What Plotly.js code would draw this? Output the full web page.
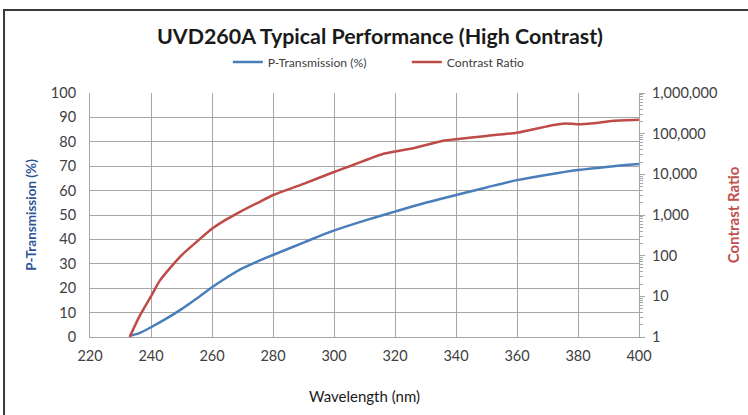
<!DOCTYPE html>
<html>
<head>
<meta charset="utf-8">
<script src="https://cdn.plot.ly/plotly-3.0.1.min.js"></script>
<style>html,body{margin:0;padding:0;background:#fff;}#chart{width:748px;height:415px;}</style>
</head>
<body>
<div id="chart"></div>
<script>
// Data
const wlTrans = [233, 236, 240, 245, 249.5, 255, 260, 265, 269, 275, 280, 290, 299, 310, 320, 330, 340, 350, 360, 370, 380, 390, 400];
const pTrans  = [0.5, 1.5, 4.0, 7.5, 11, 15.8, 20.4, 24.5, 27.5, 31, 33.6, 38.7, 43.2, 47.7, 51.4, 55, 58.2, 61.3, 64.3, 66.5, 68.4, 69.8, 70.9];

const wlCR = [233, 236, 240, 243, 249.5, 255, 260.2, 265, 269.2, 275, 280.1, 290, 298.7, 306.3, 316.2, 326, 335.8, 340, 350, 359.9, 365.4, 372, 375.7, 380.1, 385, 391.6, 400];
const contrast = [1, 3, 10, 25, 94, 220, 470, 800, 1200, 2000, 3100, 5800, 10500, 17000, 32000, 44000, 67000, 73000, 88000, 105000, 128000, 164000, 179000, 170000, 180000, 208000, 220000];

const xTicks = [220, 240, 260, 280, 300, 320, 340, 360, 380, 400];
const yTicks = [0, 10, 20, 30, 40, 50, 60, 70, 80, 90, 100];
const crTickVals = [1, 10, 100, 1000, 10000, 100000, 1000000];
const crTickText = ['1', '10', '100', '1,000', '10,000', '100,000', '1,000,000'];

const blue = '#4A7EBB';
const red = '#BE4B48';
const grid = '#A6A6A6';
const txt = '#404040';
const FONT = 'Lato, "Open Sans", sans-serif';

const traces = [
  {x: wlTrans, y: pTrans, name: 'P-Transmission (%)', type: 'scatter', mode: 'lines',
   line: {color: blue, width: 2.5, shape: 'spline', smoothing: 0.8}, yaxis: 'y'},
  {x: wlCR, y: contrast, name: 'Contrast Ratio', type: 'scatter', mode: 'lines',
   line: {color: red, width: 2.5, shape: 'spline', smoothing: 0.6}, yaxis: 'y2'}
];

const layout = {
  width: 748, height: 415,
  margin: {l: 90, r: 109, t: 93, b: 78},
  paper_bgcolor: '#fff', plot_bgcolor: '#fff',
  font: {family: FONT, color: txt, size: 14.5},
  showlegend: true,
  title: {text: '<b>UVD260A Typical Performance (High Contrast)</b>', x: 0.508, xanchor: 'center',
          yref: 'container', y: 0.912, yanchor: 'middle', font: {family: FONT, size: 21.4, color: '#1a1a1a'}},
  legend: {orientation: 'h', x: 0.251, xanchor: 'left', y: 1.127, yanchor: 'middle',
           font: {family: FONT, size: 12.2, color: txt}, itemwidth: 30,
           entrywidth: 134, entrywidthmode: 'pixels',
           bgcolor: 'rgba(0,0,0,0)'},
  xaxis: {range: [220, 400], tickvals: xTicks, ticktext: xTicks.map(String),
          showgrid: true, gridcolor: grid, gridwidth: 1,
          showline: true, linecolor: grid, linewidth: 1, zeroline: false,
          ticks: '', ticklabelstandoff: 6, tickfont: {size: 14.5, color: txt},
          title: {text: 'Wavelength (nm)', font: {size: 15, color: '#1a1a1a'}, standoff: 28}},
  yaxis: {range: [0, 100], tickvals: yTicks, showgrid: true, gridcolor: grid, gridwidth: 1,
          showline: true, linecolor: grid, linewidth: 1, zeroline: false, ticks: '',
          ticklabelstandoff: 10, tickfont: {size: 14.5, color: txt},
          title: {text: '<b>P-Transmission (%)</b>', font: {size: 13.5, color: '#2F5597'}, standoff: 11}},
  yaxis2: {type: 'log', range: [0, 6], overlaying: 'y', side: 'right',
           tickvals: crTickVals, ticktext: crTickText, showgrid: false, zeroline: false,
           showline: true, linecolor: grid, linewidth: 1,
           ticks: 'outside', ticklen: 5, tickcolor: grid, tickfont: {size: 14.5, color: txt},
           ticklabelstandoff: 4,
           minor: {ticks: 'outside', ticklen: 3, tickcolor: grid, dtick: 'D1'},
           title: {text: '<b>Contrast Ratio</b>', font: {size: 15, color: '#C0504D'}, standoff: 12}},
  shapes: [{type: 'rect', xref: 'paper', yref: 'paper', x0: -0.1566, x1: 1.21, y0: -0.36, y1: 1.340,
            line: {color: '#3a3a3a', width: 2}, fillcolor: 'rgba(0,0,0,0)', layer: 'above'}]
};

Plotly.newPlot('chart', traces, layout, {displayModeBar: false, staticPlot: true});
</script>
</body>
</html>
